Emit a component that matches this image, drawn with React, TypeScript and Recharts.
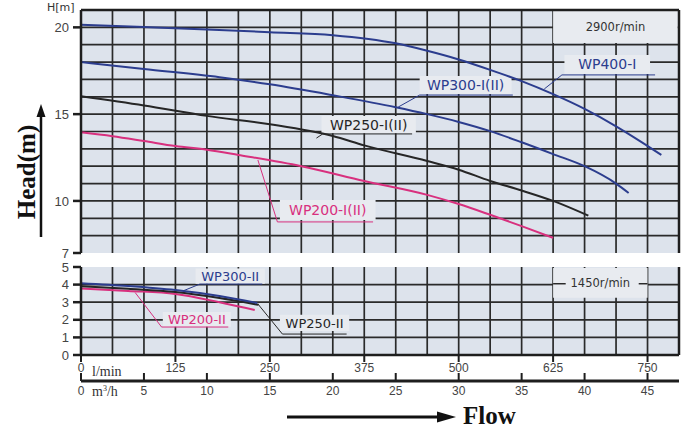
import React from 'react';
import { LineChart, Line, XAxis, YAxis, CartesianGrid, ReferenceArea, ReferenceLine } from 'recharts';

// flow in m³/h, head in m
const flowWP400 = [0, 5, 10, 15, 20, 25, 27.5, 30, 32.5, 35, 37.5, 40, 42.5, 44.4, 46.1];
const headWP400 = [20.15, 20.02, 19.88, 19.72, 19.55, 19.08, 18.65, 18.15, 17.55, 16.9, 16.15, 15.3, 14.3, 13.45, 12.65];
const flowWP300 = [0, 5, 11, 15, 20, 25, 27.5, 30, 32.5, 35, 37.5, 40, 42.5, 43.5];
const headWP300 = [18.0, 17.6, 17.13, 16.72, 16.09, 15.4, 15.0, 14.55, 14.02, 13.38, 12.7, 12.0, 11.0, 10.46];
const flowWP250 = [0, 5, 10, 15, 20, 22.5, 27.5, 30, 32.5, 35, 37.5, 40.3];
const headWP250 = [16.03, 15.5, 14.9, 14.42, 13.74, 13.2, 12.3, 11.8, 11.15, 10.6, 10.0, 9.15];
const flowWP200 = [0, 2.5, 5, 7.5, 10, 12.5, 17.5, 22.5, 27.5, 30, 32.5, 35, 37.5];
const headWP200 = [13.95, 13.73, 13.45, 13.16, 12.95, 12.65, 12.0, 11.15, 10.35, 9.82, 9.2, 8.55, 7.87];

// 1450 r/min
const flowWP300II = [0, 3.75, 7.5, 11, 14];
const headWP300II = [4.08, 3.92, 3.69, 3.35, 2.95];
const flowWP250II = [0, 3.75, 7.5, 11, 14.1];
const headWP250II = [3.9, 3.76, 3.58, 3.24, 2.85];
const flowWP200II = [0, 3.75, 7.5, 11, 13.8];
const headWP200II = [3.78, 3.64, 3.47, 3.0, 2.56];

const lminTicks = [0, 125, 250, 375, 500, 625, 750];
const m3hTicks = [0, 5, 10, 15, 20, 25, 30, 35, 40, 45];
const igpmTicks = [20, 40, 60, 80, 100, 120, 140, 160];
const headTicksTop = [7, 10, 15, 20];
const headTicksBottom = [0, 1, 2, 3, 4, 5];
const ftTicksTop = [30, 40, 50, 60];
const ftTicksBottom = [4, 10, 16];
const gridFlow = Array.from({ length: 18 }, (_, i) => (i + 1) * 2.5);
const gridHeadTop = Array.from({ length: 13 }, (_, i) => 8 + i);
const gridHeadBottom = [1, 2, 3, 4];

const toPts = (q: number[], h: number[]) => q.map((v, i) => ({ q: v, h: h[i] }));
const ptsWP400 = toPts(flowWP400, headWP400);
const ptsWP300 = toPts(flowWP300, headWP300);
const ptsWP250 = toPts(flowWP250, headWP250);
const ptsWP200 = toPts(flowWP200, headWP200);
const ptsWP300II = toPts(flowWP300II, headWP300II);
const ptsWP250II = toPts(flowWP250II, headWP250II);
const ptsWP200II = toPts(flowWP200II, headWP200II);

const BG = '#dde3ec';
const BOX = '#e8ebf0';
const GRID = '#2a2a2a';
const AXIS = '#1e1e1e';
const BLUE = '#2c3d8e';
const BLACK = '#262626';
const PINK = '#d8307e';
const MAXQ = 47.5;
const TICKFONT = 'Liberation Sans';

const qDomain: [number, number] = [0, MAXQ];
const gpmDomain: [number, number] = [0, MAXQ * 3.666];
const hDomainTop: [number, number] = [7, 21];
const hDomainBottom: [number, number] = [0, 5];
const ftDomainTop: [number, number] = [7 / 0.3048, 21 / 0.3048];
const ftDomainBottom: [number, number] = [0, 5 / 0.3048];
const lminTickPos = lminTicks.map((v) => v * 0.06);
const axisStroke = { stroke: AXIS, strokeWidth: 2.5 };
const axisStrokeThick = { stroke: AXIS, strokeWidth: 3 };
const yTickStyle = { fill: '#444', fontSize: 13, fontFamily: TICKFONT };

const NoTick = () => <g />;
const noTickEl = <NoTick />;

const LminTick = ({ x, y, index }: any) => (
  <g>
    <line x1={x} y1={y} x2={x} y2={y + 7} stroke={AXIS} strokeWidth={2} />
    <text x={x} y={y + 17} textAnchor="middle" fontSize={12} fill="#444" fontFamily={TICKFONT}>
      {lminTicks[index]}
    </text>
    {index === 0 && (
      <text x={x + 11} y={y + 21} fontSize={14} fill="#333" fontFamily="Liberation Serif">l/min</text>
    )}
  </g>
);
const lminTickEl = <LminTick />;

const M3hTick = ({ x, y, payload }: any) => (
  <g>
    <line x1={x} y1={y} x2={x} y2={y - 8} stroke={AXIS} strokeWidth={2} />
    <text x={x} y={y + 14} textAnchor="middle" fontSize={12} fill="#444" fontFamily={TICKFONT}>
      {payload.value}
    </text>
    {payload.value === 0 && (
      <text x={x + 11} y={y + 15} fontSize={14} fill="#333" fontFamily="Liberation Serif">
        m<tspan dy={-5} fontSize={8}>3</tspan><tspan dy={5}>/h</tspan>
      </text>
    )}
  </g>
);
const m3hTickEl = <M3hTick />;

const lbl = (value: string, fill: string, fontSize = 14) => ({ value, position: 'center' as const, fill, fontSize });

function TopChart() {
  return (
    <LineChart width={682} height={262} margin={{ top: 0, right: 0, left: 0, bottom: 9 }}>
      <CartesianGrid xAxisId="q" yAxisId="h" verticalValues={gridFlow} horizontalValues={gridHeadTop}
        stroke={GRID} strokeWidth={1.7} fill={BG} />
      <XAxis xAxisId="q" dataKey="q" type="number" domain={qDomain} height={0} tick={noTickEl} tickLine={false}
        interval={0} axisLine={axisStroke} />
      <XAxis xAxisId="gpm" orientation="top" type="number" domain={gpmDomain} ticks={igpmTicks} interval={0}
        height={10} tick={noTickEl} tickSize={7} tickLine={axisStroke} axisLine={axisStroke} />
      <YAxis yAxisId="h" type="number" domain={hDomainTop} ticks={headTicksTop} width={81} tickSize={8} interval={0}
        tickMargin={4} tick={yTickStyle} tickLine={axisStroke} axisLine={axisStroke} />
      <YAxis yAxisId="ft" orientation="right" type="number" domain={ftDomainTop} ticks={ftTicksTop} interval={0}
        width={3} tickSize={8} tick={noTickEl} tickLine={axisStroke} axisLine={axisStroke} />

      <ReferenceArea xAxisId="q" yAxisId="h" x1={37.5} x2={47.4} y1={19.1} y2={20.95} fill={BOX} fillOpacity={1}
        stroke="none" label={lbl('2900r/min', '#333', 11.5)} />
      <ReferenceArea xAxisId="q" yAxisId="h" x1={38.4} x2={45.2} y1={17.31} y2={18.41} fill={BOX} fillOpacity={1}
        stroke="none" label={lbl('WP400-I', BLUE)} />
      <ReferenceArea xAxisId="q" yAxisId="h" x1={26.9} x2={34.2} y1={16.16} y2={17.2} fill={BOX} fillOpacity={1}
        stroke="none" label={lbl('WP300-I(II)', BLUE)} />
      <ReferenceArea xAxisId="q" yAxisId="h" x1={19.1} x2={26.6} y1={13.9} y2={14.9} fill={BOX} fillOpacity={1}
        stroke="none" label={lbl('WP250-I(II)', BLACK)} />
      <ReferenceArea xAxisId="q" yAxisId="h" x1={15.8} x2={23.4} y1={8.9} y2={10.06} fill={BOX} fillOpacity={1}
        stroke="none" label={lbl('WP200-I(II)', PINK)} />

      <ReferenceLine xAxisId="q" yAxisId="h" segment={[{ x: 38.2, y: 17.26 }, { x: 45.6, y: 17.26 }]} stroke={BLUE} />
      <ReferenceLine xAxisId="q" yAxisId="h" segment={[{ x: 38.2, y: 17.26 }, { x: 36.8, y: 16.45 }]} stroke={BLUE} />
      <ReferenceLine xAxisId="q" yAxisId="h" segment={[{ x: 26.9, y: 16.1 }, { x: 34.3, y: 16.1 }]} stroke={BLUE} />
      <ReferenceLine xAxisId="q" yAxisId="h" segment={[{ x: 26.9, y: 16.1 }, { x: 25.2, y: 15.41 }]} stroke={BLUE} />
      <ReferenceLine xAxisId="q" yAxisId="h" segment={[{ x: 19.2, y: 13.86 }, { x: 26.3, y: 13.86 }]} stroke={BLACK} />
      <ReferenceLine xAxisId="q" yAxisId="h" segment={[{ x: 19.2, y: 13.86 }, { x: 18.7, y: 13.62 }]} stroke={BLACK} />
      <ReferenceLine xAxisId="q" yAxisId="h" segment={[{ x: 15.6, y: 8.79 }, { x: 23.2, y: 8.79 }]} stroke={PINK} />
      <ReferenceLine xAxisId="q" yAxisId="h" segment={[{ x: 15.6, y: 8.79 }, { x: 14.05, y: 12.36 }]} stroke={PINK} />

      <Line xAxisId="q" yAxisId="h" data={ptsWP400} dataKey="h" type="monotone" stroke={BLUE}
        strokeWidth={2} dot={false} isAnimationActive={false} />
      <Line xAxisId="q" yAxisId="h" data={ptsWP300} dataKey="h" type="monotone" stroke={BLUE}
        strokeWidth={2} dot={false} isAnimationActive={false} />
      <Line xAxisId="q" yAxisId="h" data={ptsWP250} dataKey="h" type="monotone" stroke={BLACK}
        strokeWidth={2} dot={false} isAnimationActive={false} />
      <Line xAxisId="q" yAxisId="h" data={ptsWP200} dataKey="h" type="monotone" stroke={PINK}
        strokeWidth={2} dot={false} isAnimationActive={false} />
    </LineChart>
  );
}

function BottomChart() {
  return (
    <LineChart width={682} height={175} margin={{ top: 12, right: 0, left: 0, bottom: 19 }}>
      <CartesianGrid xAxisId="a_lmin" yAxisId="h" verticalValues={gridFlow} horizontalValues={gridHeadBottom}
        stroke={GRID} strokeWidth={1.7} fill={BG} />
      <XAxis xAxisId="a_lmin" dataKey="q" type="number" domain={qDomain} ticks={lminTickPos}
        height={26} tickSize={0} tickMargin={0} tickLine={false} tick={lminTickEl} interval={0}
        axisLine={axisStroke} />
      <XAxis xAxisId="b_m3" dataKey="q" type="number" domain={qDomain} ticks={m3hTicks} height={30} tickSize={0}
        tickMargin={0} tickLine={false} tick={m3hTickEl} interval={0} axisLine={axisStrokeThick} />
      <XAxis xAxisId="c_top" orientation="top" type="number" domain={qDomain} height={0} tick={noTickEl}
        tickLine={false} axisLine={axisStroke} />
      <YAxis yAxisId="h" type="number" domain={hDomainBottom} ticks={headTicksBottom} width={81} tickSize={8}
        tickMargin={4} tick={yTickStyle} interval={0} tickLine={axisStroke} axisLine={axisStroke} />
      <YAxis yAxisId="ft" orientation="right" type="number" domain={ftDomainBottom} ticks={ftTicksBottom}
        width={3} tickSize={8} tick={noTickEl} interval={0} tickLine={axisStroke} axisLine={axisStroke} />

      <ReferenceArea xAxisId="a_lmin" yAxisId="h" x1={37.5} x2={45} y1={3.25} y2={4.95} fill={BOX} fillOpacity={1}
        stroke="none" label={lbl('1450r/min', '#333', 11.5)} />
      <ReferenceLine xAxisId="a_lmin" yAxisId="h" segment={[{ x: 37.5, y: 4.05 }, { x: 38.5, y: 4.05 }]} stroke={GRID} strokeWidth={1.5} />
      <ReferenceLine xAxisId="a_lmin" yAxisId="h" segment={[{ x: 44.3, y: 4.05 }, { x: 45, y: 4.05 }]} stroke={GRID} strokeWidth={1.5} />
      <ReferenceArea xAxisId="a_lmin" yAxisId="h" x1={9.1} x2={14.6} y1={4.05} y2={4.92} fill={BOX} fillOpacity={1}
        stroke="none" label={lbl('WP300-II', BLUE, 13)} />
      <ReferenceArea xAxisId="a_lmin" yAxisId="h" x1={6.5} x2={11.9} y1={1.6} y2={2.45} fill={BOX} fillOpacity={1}
        stroke="none" label={lbl('WP200-II', PINK, 13)} />
      <ReferenceArea xAxisId="a_lmin" yAxisId="h" x1={15.8} x2={21.3} y1={1.36} y2={2.28} fill={BOX} fillOpacity={1}
        stroke="none" label={lbl('WP250-II', BLACK, 13)} />

      <ReferenceLine xAxisId="a_lmin" yAxisId="h" segment={[{ x: 9.44, y: 4.03 }, { x: 14.4, y: 4.03 }]} stroke={BLUE} />
      <ReferenceLine xAxisId="a_lmin" yAxisId="h" segment={[{ x: 9.44, y: 4.03 }, { x: 8.1, y: 3.64 }]} stroke={BLUE} />
      <ReferenceLine xAxisId="a_lmin" yAxisId="h" segment={[{ x: 6.4, y: 1.59 }, { x: 11.7, y: 1.59 }]} stroke={PINK} />
      <ReferenceLine xAxisId="a_lmin" yAxisId="h" segment={[{ x: 6.4, y: 1.59 }, { x: 4.3, y: 3.55 }]} stroke={PINK} />
      <ReferenceLine xAxisId="a_lmin" yAxisId="h" segment={[{ x: 16.0, y: 1.19 }, { x: 21.1, y: 1.19 }]} stroke={BLACK} />
      <ReferenceLine xAxisId="a_lmin" yAxisId="h" segment={[{ x: 16.0, y: 1.19 }, { x: 14.05, y: 2.9 }]} stroke={BLACK} />

      <Line xAxisId="a_lmin" yAxisId="h" data={ptsWP200II} dataKey="h" type="monotone" stroke={PINK}
        strokeWidth={2} dot={false} isAnimationActive={false} />
      <Line xAxisId="a_lmin" yAxisId="h" data={ptsWP250II} dataKey="h" type="monotone" stroke={BLACK}
        strokeWidth={2} dot={false} isAnimationActive={false} />
      <Line xAxisId="b_m3" yAxisId="h" data={ptsWP300II} dataKey="h" type="monotone" stroke={BLUE}
        strokeWidth={2} dot={false} isAnimationActive={false} />
    </LineChart>
  );
}

export default function App() {
  return (
    <div style={{ position: 'absolute', left: 0, top: 0, width: 682, height: 430, background: '#fff', fontFamily: 'DejaVu Sans', overflow: 'hidden' }}>
      <div style={{ position: 'absolute', left: 0, top: 0 }}>
        <TopChart />
      </div>
      <div style={{ position: 'absolute', left: 0, top: 255 }}>
        <BottomChart />
      </div>
      <svg width={682} height={430} style={{ position: 'absolute', left: 0, top: 0, pointerEvents: 'none' }}>
        <text x={47} y={11} fontSize={11} fill="#333" fontFamily="DejaVu Sans">H[m]</text>
        <text transform="translate(26,172) rotate(-90)" textAnchor="middle" dominantBaseline="central"
          fontFamily="Liberation Serif" fontWeight="bold" fontSize={25} fill="#111">Head(m)</text>
        <line x1={41} y1={237} x2={41} y2={114} stroke="#111" strokeWidth={2.5} />
        <polygon points="41,104 36.5,117 45.5,117" fill="#111" />
        <line x1={287} y1={417} x2={440} y2={417} stroke="#111" strokeWidth={3} />
        <polygon points="456,417 437,411.5 437,422.5" fill="#111" />
        <text x={463} y={424} fontFamily="Liberation Serif" fontWeight="bold" fontSize={25} fill="#111">Flow</text>
      </svg>
    </div>
  );
}
